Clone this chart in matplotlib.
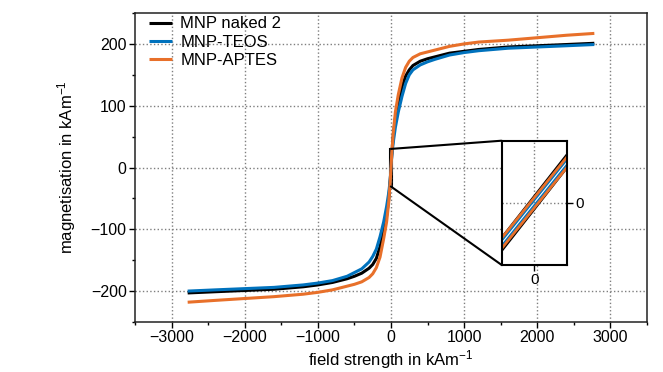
import matplotlib
matplotlib.use("Agg")
import matplotlib.pyplot as plt
from matplotlib.ticker import MultipleLocator
from mpl_toolkits.axes_grid1.inset_locator import mark_inset

plt.rcParams['font.family'] = ['Liberation Sans', 'DejaVu Sans']
plt.rcParams['mathtext.fontset'] = 'custom'
plt.rcParams['mathtext.rm'] = 'Liberation Sans'
plt.rcParams['mathtext.it'] = 'Liberation Sans'

# Field strength in kA/m
field = [-2780, -2400, -2000, -1600, -1200, -1000, -800, -600, -500, -400,
         -300, -250, -200, -150, -100, -60, -30, -10, 10, 30, 60, 100, 150,
         200, 250, 300, 400, 500, 600, 800, 1000, 1200, 1600, 2000, 2400, 2780]

# Magnetisation in kA/m
m_naked = [-203, -201, -199, -197, -193, -190, -186, -180, -176, -171,
           -163, -157, -147, -128, -102, -78, -50, -20, 20, 50, 80, 105, 130,
           148, 158, 165, 172, 176, 179, 185, 188, 191, 195, 197, 199, 201]
m_teos = [-200, -198, -196, -194, -190, -187, -183, -176, -170, -164,
          -153, -144, -132, -112, -88, -63, -40, -19, 19, 40, 65, 90, 115,
          136, 150, 158, 166, 171, 175, 182, 186, 189, 193, 195, 197, 199]
m_aptes = [-218, -215, -212, -209, -205, -202, -198, -192, -189, -185,
           -178, -172, -162, -145, -115, -88, -55, -22, 22, 55, 90, 118, 145,
           162, 172, 178, 184, 187, 190, 196, 200, 203, 206, 210, 214, 217]

# Low-field detail: descending and ascending branches
field_zoom = [-10, 10]
naked_down = [-17, 23]
naked_up = [-23, 17]
teos_down = [-18, 21]
teos_up = [-21, 18]
aptes_down = [-17, 22]
aptes_up = [-22, 17]

labels = ["MNP naked 2", "MNP-TEOS", "MNP-APTES"]
colors = ["#000000", "#0072BD", "#E8702A"]

fig = plt.figure(figsize=(6.63, 3.72), dpi=100)
ax = fig.add_axes([135 / 663, 1 - 322 / 372, (647 - 135) / 663, (322 - 13) / 372])

for m, lab, c in zip([m_naked, m_teos, m_aptes], labels, colors):
    ax.plot(field, m, color=c, lw=2.2, label=lab, solid_capstyle='butt',
            solid_joinstyle='round')

ax.set_xlim(-3500, 3500)
ax.set_ylim(-250, 250)
ax.xaxis.set_major_locator(MultipleLocator(1000))
ax.xaxis.set_minor_locator(MultipleLocator(500))
ax.yaxis.set_major_locator(MultipleLocator(100))
ax.yaxis.set_minor_locator(MultipleLocator(50))
ax.tick_params(which='major', direction='out', length=4, width=1, labelsize=11.5,
               pad=2, top=False, right=False)
ax.tick_params(which='minor', direction='out', length=2.5, width=1,
               top=False, right=False)
ax.grid(True, which='major', linestyle=':', color='#7f7f7f', lw=1)
for s in ax.spines.values():
    s.set_linewidth(1.1)
    s.set_color('#222222')

ax.set_xlabel("field strength in kAm$^{-1}$", fontsize=12, labelpad=2)
ax.set_ylabel("magnetisation in kAm$^{-1}$", fontsize=12, labelpad=9)

ax.legend(loc='upper left', frameon=False, fontsize=12, handlelength=1.4,
          handletextpad=0.5, labelspacing=0.2, borderaxespad=0.1,
          borderpad=0.1, bbox_to_anchor=(0.02, 1.0))

# Inset with the low-field region
axins = fig.add_axes([501.7 / 663, 1 - 265 / 372, 65 / 663, 124.3 / 372])
branches = [(naked_down, naked_up), (teos_down, teos_up), (aptes_down, aptes_up)]
for (down, up), c in zip(branches, colors):
    axins.plot(field_zoom, down, color=c, lw=2.0)
    axins.plot(field_zoom, up, color=c, lw=2.0)
axins.set_xlim(-10, 10)
axins.set_ylim(-30, 30)
axins.set_xticks([0])
axins.set_yticks([0])
axins.yaxis.tick_right()
axins.tick_params(direction='out', length=4, width=1, labelsize=11, pad=2,
                  left=False, top=False)
axins.grid(True, linestyle=':', color='#7f7f7f', lw=1)
for s in axins.spines.values():
    s.set_linewidth(1.5)
    s.set_color('black')

mark_inset(ax, axins, loc1=2, loc2=3, fc='none', ec='black', lw=1.5)

fig.savefig("out.png", dpi=100)
